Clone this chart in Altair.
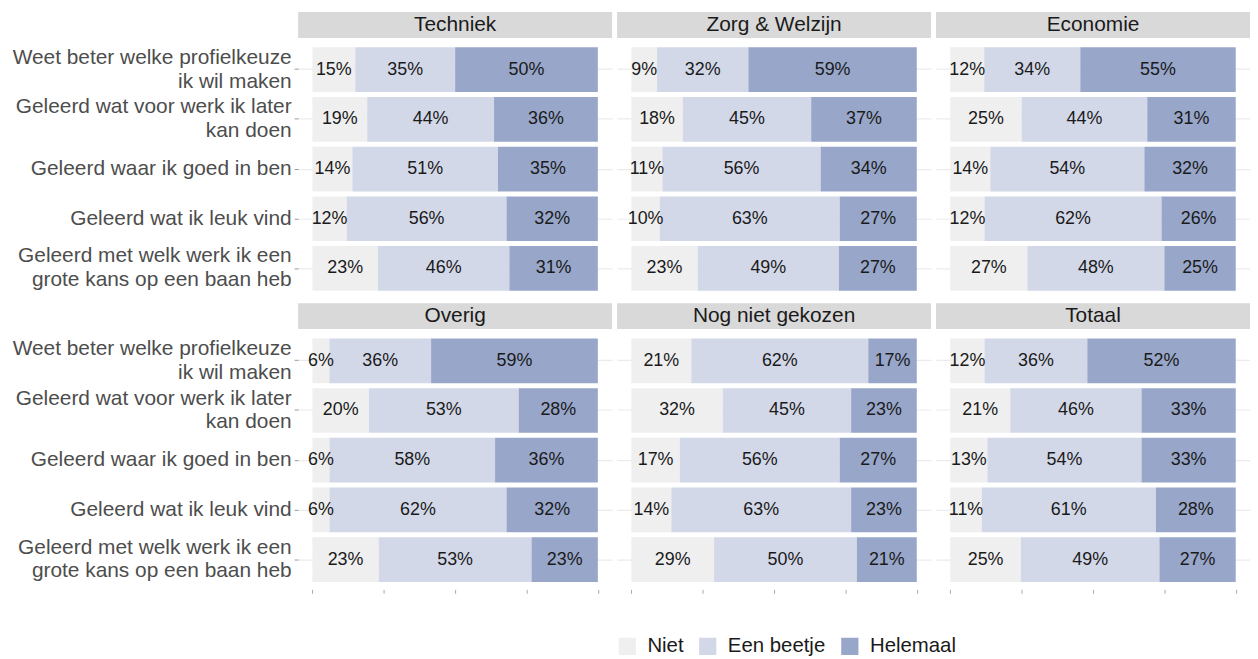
import altair as alt
import pandas as pd

groups = ["Techniek", "Zorg & Welzijn", "Economie", "Overig", "Nog niet gekozen", "Totaal"]
items = [
    "Weet beter welke profielkeuze|ik wil maken",
    "Geleerd wat voor werk ik later|kan doen",
    "Geleerd waar ik goed in ben",
    "Geleerd wat ik leuk vind",
    "Geleerd met welk werk ik een|grote kans op een baan heb",
]
levels = ["Niet", "Een beetje", "Helemaal"]
colors = ["#efefef", "#d3d8e8", "#97a6c9"]

niet = {
    "Techniek": [15, 19, 14, 12, 23],
    "Zorg & Welzijn": [9, 18, 11, 10, 23],
    "Economie": [12, 25, 14, 12, 27],
    "Overig": [6, 20, 6, 6, 23],
    "Nog niet gekozen": [21, 32, 17, 14, 29],
    "Totaal": [12, 21, 13, 11, 25],
}
een_beetje = {
    "Techniek": [35, 44, 51, 56, 46],
    "Zorg & Welzijn": [32, 45, 56, 63, 49],
    "Economie": [34, 44, 54, 62, 48],
    "Overig": [36, 53, 58, 62, 53],
    "Nog niet gekozen": [62, 45, 56, 63, 50],
    "Totaal": [36, 46, 54, 61, 49],
}
helemaal = {
    "Techniek": [50, 36, 35, 32, 31],
    "Zorg & Welzijn": [59, 37, 34, 27, 27],
    "Economie": [55, 31, 32, 26, 25],
    "Overig": [59, 28, 36, 32, 23],
    "Nog niet gekozen": [17, 23, 27, 23, 21],
    "Totaal": [52, 33, 33, 28, 27],
}

rows = []
for g in groups:
    for i, it in enumerate(items):
        for k, (lev, src) in enumerate(zip(levels, [niet, een_beetje, helemaal])):
            v = src[g][i]
            rows.append({"group": g, "item": it, "level": lev, "order": k,
                         "value": v, "label": f"{v}%"})
df = pd.DataFrame(rows)

W = 316
H = 260
FONT = "Liberation Sans"


def panel(g, col, row):
    base = alt.Chart(df).transform_filter(alt.datum.group == g).transform_stack(
        stack="value", groupby=["item"], as_=["x0", "x1"], offset="normalize",
        sort=[alt.SortField("order", order="ascending")],
    ).transform_calculate(mid="(datum.x0 + datum.x1) / 2")

    if col == 0:
        yaxis = alt.Axis(title=None, labelExpr="split(datum.label, '|')", labelFontSize=21,
                         labelColor="#4d4d4d", labelFont=FONT, labelLineHeight=24,
                         labelAlign="right", labelBaseline="middle", labelPadding=3,
                         labelOffset={"condition": {"test": "indexof(datum.value, '|') >= 0",
                                                    "value": -12}, "value": 0},
                         ticks=True, tickSize=4, tickColor="#999999", domain=False,
                         grid=True, gridColor="#ebebeb", gridWidth=1.2, bandPosition=0.5,
                         labelLimit=0)
    else:
        yaxis = alt.Axis(title=None, labels=False, ticks=False, domain=False, grid=True,
                         gridColor="#ebebeb", gridWidth=1.2, bandPosition=0.5,
                         minExtent=0, maxExtent=0)
    if row == 1:
        xaxis = alt.Axis(title=None, labels=False, ticks=True, tickSize=4,
                         tickColor="#aaaaaa", domain=False, grid=False,
                         values=[0, 0.25, 0.5, 0.75, 1])
    else:
        xaxis = None

    xscale = alt.Scale(domain=[-0.05, 1.05], nice=False, zero=False)
    yscale = alt.Scale(paddingInner=0.1, paddingOuter=0.15)

    bars = base.mark_bar().encode(
        x=alt.X("x0:Q", scale=xscale, axis=xaxis),
        x2="x1:Q",
        y=alt.Y("item:N", sort=items, scale=yscale, axis=yaxis),
        color=alt.Color("level:N", scale=alt.Scale(domain=levels, range=colors),
                        legend=alt.Legend(title=None, orient="none", legendX=321, legendY=600,
                                          direction="horizontal", symbolType="square",
                                          symbolSize=300, symbolStrokeWidth=0,
                                          labelFontSize=20.5, labelColor="#1a1a1a",
                                          labelFont=FONT, columnPadding=14, labelOffset=10)),
    )
    text = base.mark_text(fontSize=18, color="#1a1a1a", font=FONT, baseline="middle").encode(
        x=alt.X("mid:Q", scale=xscale, axis=xaxis),
        y=alt.Y("item:N", sort=items, scale=yscale, axis=yaxis),
        text="label:N",
    )
    hdr = alt.Chart(alt.Data(values=[{"t": g}])).mark_rect(color="#d9d9d9").encode(
        x=alt.value(0), x2=alt.value(W), y=alt.value(-28), y2=alt.value(-2)
    )
    hdr_text = alt.Chart(alt.Data(values=[{"t": g}])).mark_text(
        fontSize=21, color="#1a1a1a", font=FONT, baseline="middle"
    ).encode(x=alt.value(W / 2), y=alt.value(-15), text="t:N")
    return alt.layer(hdr, hdr_text, bars, text).properties(width=W, height=H)


row1 = alt.hconcat(*[panel(g, c, 0) for c, g in enumerate(groups[:3])], spacing=5)
row2 = alt.hconcat(*[panel(g, c, 1) for c, g in enumerate(groups[3:])], spacing=5)
chart = alt.vconcat(row1, row2, spacing=5).properties(
    padding={"left": 4, "top": 2, "right": 0, "bottom": 0}
).configure_view(stroke=None)

chart.save("out.html", embed_options={"renderer": "svg", "actions": False})
